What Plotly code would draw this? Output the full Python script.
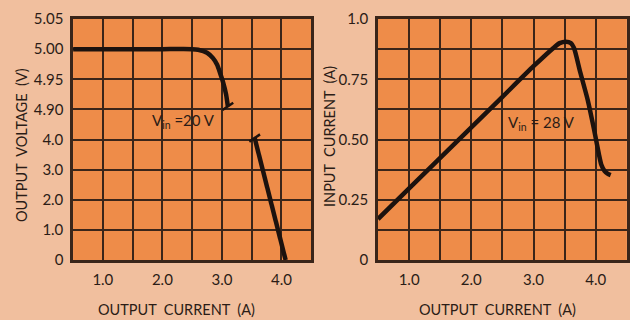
import plotly.graph_objects as go

# Curva izquierda: tension de salida vs corriente de salida (Vin = 20 V)
I_UPPER = [0.5, 1.0, 1.5, 2.0, 2.5, 2.6, 2.75, 2.85, 2.92, 2.97, 3.02, 3.07, 3.1]
V_UPPER = [5.0, 5.0, 5.0, 5.0, 5.0, 4.999, 4.994, 4.985, 4.974, 4.96, 4.945, 4.925, 4.905]
I_LOWER = [3.55, 4.07]
V_LOWER = [4.05, 0.0]

# Curva derecha: corriente de entrada vs corriente de salida (Vin = 28 V)
I_OUT_28 = [0.5, 1.0, 1.5, 2.0, 2.5, 3.0, 3.32, 3.42, 3.52, 3.6, 3.65, 3.75, 3.87,
            3.97, 4.05, 4.09, 4.14, 4.19, 4.24]
I_IN_28 = [0.17, 0.297, 0.424, 0.55, 0.677, 0.804, 0.88, 0.9, 0.906, 0.9, 0.88, 0.78,
           0.665, 0.545, 0.44, 0.395, 0.37, 0.358, 0.352]

X_TICKS = [0.5, 1.0, 1.5, 2.0, 2.5, 3.0, 3.5, 4.0, 4.5]
X_LABELS = ["", "1.0", "", "2.0", "", "3.0", "", "4.0", ""]
V_LABELS = ["0", "1.0", "2.0", "3.0", "4.0", "4.90", "4.95", "5.00", "5.05"]
A_TICKS = [0, 0.125, 0.25, 0.375, 0.5, 0.625, 0.75, 0.875, 1.0]
A_LABELS = ["0", "", "0.25", "", "0.50", "", "0.75", "", "1.0"]

PAPER = "#f1bf9e"
PLOT = "#ee8c49"
INK = "#2b1c16"
GRID = "#3a2519"
FONT = "Lato"


def v_pos(v):
    """Eje partido: 0-4 V lineal abajo, 4.90-5.05 V ampliado arriba."""
    return 5 + (v - 4.90) / 0.05 if v >= 4.9 else v


def break_mark(x, y, dx=0.09, dy=0.12):
    return [x - dx, x + dx], [y - dy, y + dy]


fig = go.Figure()
line = dict(color="#1c120e", width=4.5)

fig.add_trace(go.Scatter(x=I_UPPER, y=[v_pos(v) for v in V_UPPER], mode="lines",
                         line=dict(line, shape="spline", smoothing=0.6),
                         xaxis="x", yaxis="y"))
bx, by = break_mark(I_UPPER[-1], v_pos(V_UPPER[-1]))
fig.add_trace(go.Scatter(x=bx, y=by, mode="lines", line=dict(color="#1c120e", width=2.5),
                         xaxis="x", yaxis="y"))
fig.add_trace(go.Scatter(x=I_LOWER, y=[v_pos(v) for v in V_LOWER], mode="lines",
                         line=line, xaxis="x", yaxis="y"))
bx, by = break_mark(I_LOWER[0], v_pos(V_LOWER[0]))
fig.add_trace(go.Scatter(x=bx, y=by, mode="lines", line=dict(color="#1c120e", width=2.5),
                         xaxis="x", yaxis="y"))

fig.add_trace(go.Scatter(x=I_OUT_28, y=I_IN_28, mode="lines",
                         line=dict(line, shape="spline", smoothing=0.6),
                         xaxis="x2", yaxis="y2"))

axis_common = dict(showgrid=True, gridcolor=GRID, gridwidth=2, zeroline=False,
                   showline=True, linecolor=GRID, linewidth=2.5, mirror=True,
                   ticks="", tickfont=dict(family=FONT, size=15, color=INK),
                   automargin=False)

fig.update_layout(
    width=630, height=320, margin=dict(l=0, r=0, t=0, b=0),
    paper_bgcolor=PAPER, plot_bgcolor=PLOT, showlegend=False,
    font=dict(family=FONT, color=INK),
    xaxis=dict(axis_common, domain=[0.116, 0.494], range=[0.5, 4.5],
               tickvals=X_TICKS, ticktext=X_LABELS, anchor="y", ticklabelstandoff=4),
    yaxis=dict(axis_common, domain=[0.1875, 0.9406], range=[0, 8],
               tickvals=list(range(9)), ticktext=V_LABELS, anchor="x", ticklabelstandoff=4),
    xaxis2=dict(axis_common, domain=[0.6, 0.995], range=[0.5, 4.5],
                tickvals=X_TICKS, ticktext=X_LABELS, anchor="y2", ticklabelstandoff=4),
    yaxis2=dict(axis_common, domain=[0.1875, 0.9406], range=[0, 1.0],
                tickvals=A_TICKS, ticktext=A_LABELS, anchor="x2", ticklabelstandoff=4),
)

title_font = dict(family=FONT, size=14.5, color=INK)
for text, x, y, angle in [("OUTPUT  CURRENT  (A)", 176, 309, 0),
                          ("OUTPUT  CURRENT  (A)", 497, 309, 0),
                          ("OUTPUT  VOLTAGE  (V)", 21, 145, -90),
                          ("INPUT  CURRENT  (A)", 329, 137, -90)]:
    fig.add_annotation(x=x / 630, y=1 - y / 320, xref="paper", yref="paper",
                       xanchor="center", yanchor="middle",
                       text=text, textangle=angle, showarrow=False, font=title_font)

fig.add_annotation(x=2.35, y=v_pos(4.6), xref="x", yref="y", showarrow=False,
                   text="V<sub>in</sub> =20 V", font=dict(family=FONT, size=15, color=INK))
fig.add_annotation(x=3.12, y=0.57, xref="x2", yref="y2", showarrow=False,
                   text="V<sub>in</sub> = 28 V", font=dict(family=FONT, size=15, color=INK))

fig.write_html("out.html", config={"displayModeBar": False},
               post_script="document.body.style.margin='0';")
